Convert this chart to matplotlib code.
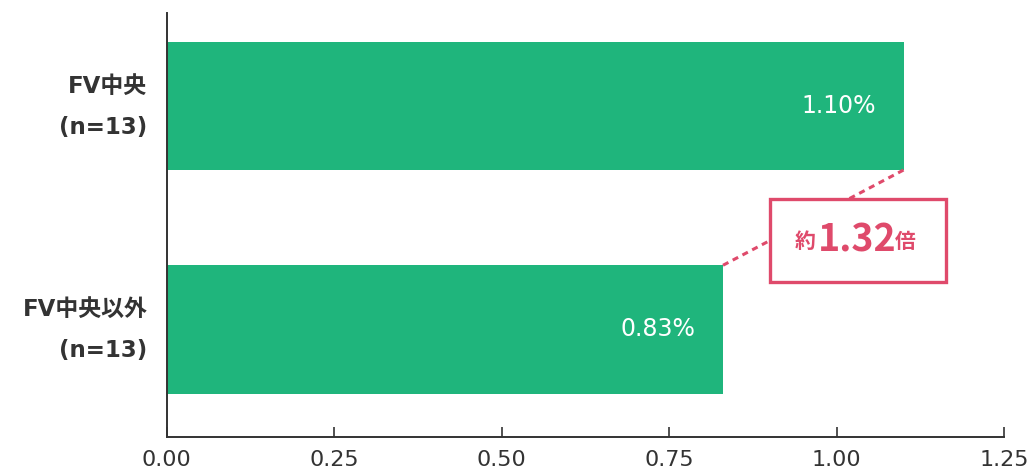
import matplotlib
matplotlib.use("Agg")
from matplotlib import pyplot as plt
from matplotlib.patches import Rectangle

plt.rcParams["font.family"] = ["DejaVu Sans", "Noto Sans CJK JP"]

categories = ["FV中央\n(n=13)", "FV中央以外\n(n=13)"]
rates = [1.10, 0.83]
rate_labels = ["1.10%", "0.83%"]
ratio_label = "1.32"
x_ticks = [0.00, 0.25, 0.50, 0.75, 1.00, 1.25]

green = "#1fb57c"
pink = "#df4a6b"
dark = "#333333"
cjk = ["Noto Sans CJK JP", "DejaVu Sans"]

fig = plt.figure(figsize=(10.31, 4.73), dpi=100)
ax = fig.add_axes([0.1617, 0.0761, 0.8121, 0.8964])

ypos = [1, 0]
bar_h = 0.573
ax.barh(ypos, rates, height=bar_h, color=green, zorder=2)

for y, v, lab in zip(ypos, rates, rate_labels):
    ax.annotate(lab, (v, y), xytext=(-20, 0), textcoords="offset points",
                ha="right", va="center", color="white", fontsize=17, zorder=4)

# category labels left of the axis
for y, cat in zip(ypos, categories):
    ax.annotate(cat, (0, y), xytext=(-14, -0.5), textcoords="offset points",
                ha="right", va="center", multialignment="right",
                fontsize=16.5, fontweight="bold", color=dark, linespacing=2.0,
                annotation_clip=False)

# dashed connector between the two bar ends
ax.plot([rates[0], rates[1]], [ypos[0] - bar_h / 2, ypos[1] + bar_h / 2],
        color=pink, lw=2.2, ls=(0, (2, 1.6)), zorder=3, clip_on=False)

# ratio box
bx, by, bw, bh = 0.9, 0.213, 0.263, 0.372
ax.add_patch(Rectangle((bx, by), bw, bh, facecolor="white", edgecolor=pink,
                       lw=2.4, zorder=5, clip_on=False))
cx, cy = bx + bw / 2, by + bh / 2
ax.text(cx, cy, ratio_label, ha="center", va="center", color=pink,
        fontsize=27, fontweight="bold", family=cjk, zorder=6)
ax.annotate("約", (cx, cy), xytext=(-30, -1), textcoords="offset points",
            ha="right", va="center", color=pink, fontsize=15,
            fontweight="bold", family=cjk, zorder=6)
ax.annotate("倍", (cx, cy), xytext=(27, -1), textcoords="offset points",
            ha="left", va="center", color=pink, fontsize=15,
            fontweight="bold", family=cjk, zorder=6)

ax.set_xlim(0, 1.25)
ax.set_ylim(-0.481, 1.416)
ax.set_xticks(x_ticks)
ax.set_xticklabels([f"{t:.2f}" for t in x_ticks])
ax.set_yticks([])

ax.tick_params(axis="x", direction="in", length=7, width=1.2, color=dark,
               labelsize=16, labelcolor=dark, pad=9)

for side in ["top", "right"]:
    ax.spines[side].set_visible(False)
for side in ["left", "bottom"]:
    ax.spines[side].set_color(dark)
    ax.spines[side].set_linewidth(1.4)

fig.savefig("out.png", dpi=100)
